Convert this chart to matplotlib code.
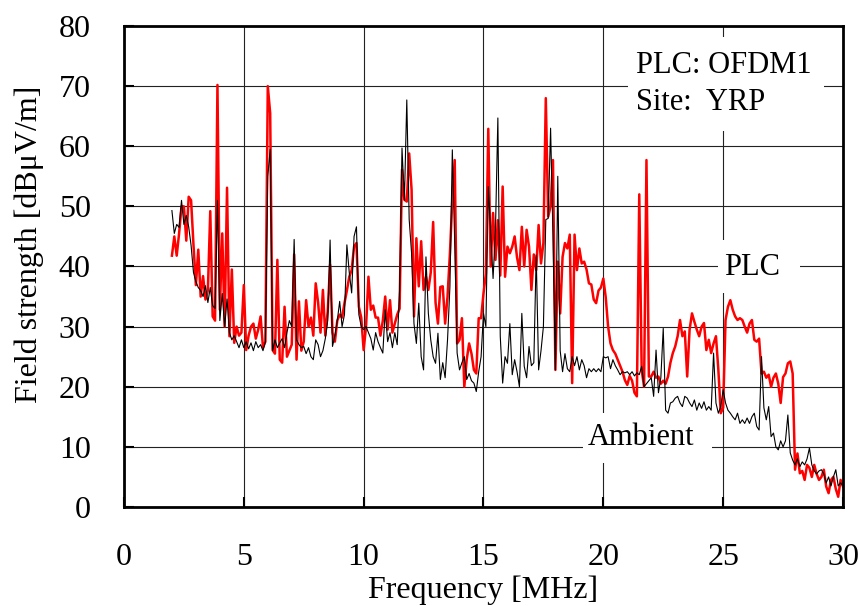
import matplotlib
matplotlib.use('Agg')
import matplotlib.pyplot as plt
import numpy as np
from matplotlib.patches import Rectangle

# ---------------- data ----------------
freq_mhz = np.round(np.arange(2.0, 30.05, 0.1), 1)

ambient = [
    49.3, 45.5, 47.0, 46.5, 51.0, 47.0, 48.5, 46.6, 43.5, 39.0,
    37.5, 36.5, 36.0, 35.0, 36.8, 34.0, 36.5, 33.5, 33.0, 51.0,
    31.0, 35.5, 30.0, 34.6, 29.0, 27.8, 28.5, 27.5, 26.5, 27.8,
    26.5, 27.5, 26.3, 27.3, 26.0, 27.5, 26.5, 27.0, 26.0, 27.5,
    55.0, 59.5, 26.0, 27.8, 26.5, 27.3, 28.0, 26.5, 29.0, 31.0,
    30.0, 44.5, 27.8, 27.0, 26.5, 26.7, 25.5, 26.5, 25.0, 24.5,
    27.8, 27.0, 25.0, 26.0, 28.0, 31.0, 44.4, 26.7, 28.5, 31.0,
    34.2, 30.0, 32.0, 43.6, 39.0, 35.6, 45.0, 46.6, 32.0, 30.0,
    29.5, 30.0, 29.0, 28.0, 26.1, 29.0, 27.5, 26.5, 25.6, 32.8,
    27.5, 29.0, 26.5, 29.0, 27.0, 36.1, 59.7, 51.0, 67.7, 47.8,
    42.2, 30.5, 27.2, 33.9, 25.0, 22.8, 41.6, 32.2, 27.8, 25.0,
    23.9, 28.9, 21.2, 24.0, 21.5, 27.8, 36.7, 59.4, 43.9, 25.6,
    22.8, 24.0, 25.0, 21.2, 22.2, 21.0, 20.6, 19.2, 22.5, 25.0,
    32.2, 30.0, 53.3, 45.5, 38.0, 46.1, 64.7, 28.4, 20.6, 25.0,
    23.9, 30.5, 22.0, 24.5, 22.5, 20.0, 32.2, 23.4, 21.5, 26.7,
    23.5, 24.0, 41.9, 22.8, 26.0, 30.0, 47.8, 48.0, 63.0, 45.0,
    22.8, 55.0, 26.0, 22.5, 25.5, 23.0, 22.5, 25.0, 23.5, 25.0,
    22.8, 24.5, 23.5, 21.5, 23.0, 22.5, 23.0, 22.5, 23.0, 22.5,
    25.0, 24.8, 25.0, 23.0, 24.5, 23.5, 22.8, 22.0, 22.5, 22.3,
    22.5, 22.0, 22.5, 21.8, 22.3, 22.0, 23.4, 20.0, 20.5, 21.0,
    21.5, 18.4, 26.1, 19.0, 21.5, 29.7, 16.1, 15.6, 17.3, 17.5,
    18.1, 18.4, 17.3, 16.7, 18.4, 18.1, 17.3, 16.7, 17.8, 16.1,
    17.3, 16.4, 17.5, 16.1, 16.7, 16.1, 25.6, 17.3, 15.6, 16.7,
    19.5, 17.3, 16.1, 15.6, 15.0, 14.5, 15.6, 13.9, 14.5, 13.9,
    14.8, 13.9, 15.0, 15.6, 13.4, 12.8, 25.0, 16.5, 14.5, 16.7,
    11.7, 12.3, 10.0, 9.5, 11.0, 10.0, 11.0, 15.3, 9.0, 7.8,
    7.0, 8.0, 6.7, 7.5, 7.0, 8.0, 9.8, 7.0, 6.0, 5.5,
    6.0, 6.2, 5.5, 4.0, 5.0, 3.5, 5.0, 6.2, 3.5, 4.0,
    3.5,
]

plc = [
    41.8, 45.0, 41.8, 45.5, 50.0, 50.0, 44.3, 51.6, 51.0, 43.6,
    36.9, 42.8, 35.0, 38.4, 34.5, 36.0, 49.2, 31.7, 31.0, 70.2,
    32.8, 45.5, 30.0, 53.1, 28.4, 39.5, 27.3, 30.0, 28.5, 29.0,
    36.9, 26.1, 28.5, 30.0, 30.5, 28.0, 29.5, 31.7, 26.5, 27.5,
    70.0, 65.5, 26.1, 25.5, 41.1, 24.5, 24.0, 33.3, 25.0, 26.0,
    27.0, 42.0, 24.5, 34.2, 26.0, 27.5, 34.4, 30.0, 31.5, 28.5,
    37.2, 34.0, 29.0, 36.1, 28.5, 32.5, 40.3, 29.0, 27.5, 31.0,
    32.0, 31.5, 33.9, 36.0, 38.3, 39.4, 43.3, 43.9, 33.3, 31.5,
    26.1, 30.0, 38.3, 32.8, 33.5, 31.5, 31.5, 28.5, 31.0, 35.0,
    29.5, 34.4, 29.0, 30.5, 32.0, 33.0, 56.1, 51.1, 50.8, 58.8,
    52.8, 31.7, 44.7, 36.7, 44.2, 36.1, 38.3, 36.1, 39.0, 47.4,
    34.0, 30.5, 36.6, 36.7, 30.5, 35.0, 42.2, 51.1, 57.7, 27.2,
    27.8, 31.4, 20.0, 24.5, 27.2, 25.5, 22.8, 22.2, 31.4, 31.4,
    35.5, 38.8, 62.9, 40.0, 48.9, 41.1, 47.7, 38.5, 53.3, 38.3,
    43.3, 42.2, 43.3, 45.0, 41.5, 39.4, 46.6, 40.0, 46.1, 43.3,
    36.1, 42.0, 39.4, 46.9, 40.5, 43.9, 68.0, 48.3, 50.0, 57.7,
    22.8, 40.8, 32.2, 41.6, 43.9, 43.0, 45.3, 20.6, 45.3, 39.4,
    43.0, 40.5, 40.8, 39.5, 37.2, 37.0, 34.5, 33.9, 36.0, 36.5,
    38.0, 34.9, 30.0, 27.2, 26.1, 25.5, 24.5, 23.5, 22.5, 21.1,
    20.3, 21.8, 21.0, 19.0, 18.4, 52.0, 22.8, 20.0, 57.7, 21.7,
    21.7, 22.5, 21.5, 21.7, 20.5, 21.0, 20.5, 21.7, 24.0, 25.6,
    26.7, 28.4, 31.1, 28.4, 29.2, 21.7, 29.5, 32.2, 30.8, 29.5,
    28.4, 30.0, 30.6, 26.1, 27.8, 25.6, 27.2, 28.4, 22.8, 15.6,
    16.5, 31.1, 33.3, 34.4, 32.8, 31.7, 31.1, 31.4, 31.1, 30.0,
    29.0, 30.5, 31.1, 27.8, 27.5, 28.0, 22.2, 22.5, 21.5, 22.0,
    20.0, 21.5, 22.2, 20.5, 17.3, 21.6, 22.2, 23.9, 24.2, 22.2,
    6.2, 8.9, 5.6, 6.0, 4.5, 7.0, 6.5, 5.0, 7.0, 5.5,
    4.5, 5.0, 6.2, 3.4, 2.3, 4.5, 5.0, 3.0, 1.7, 4.5,
    3.4,
]

x_ticks = [0, 5, 10, 15, 20, 25, 30]
y_ticks = [0, 10, 20, 30, 40, 50, 60, 70, 80]

# ---------------- figure ----------------
plt.rcParams['font.family'] = ['Liberation Serif', 'DejaVu Serif']
FS = 23
FS_NOTE = 22

fig = plt.figure(figsize=(8.58, 6.06), dpi=100)
ax = fig.add_axes([0.1445, 0.1634, 0.8380, 0.7937])

ax.plot(freq_mhz, plc, color='#ff0000', lw=1.8, zorder=2)
ax.plot(freq_mhz, ambient, color='black', lw=0.8, zorder=3)

ax.set_xlim(0, 30)
ax.set_ylim(0, 80)
ax.set_xticks(x_ticks)
ax.set_yticks(y_ticks)
ax.grid(True, color='#222222', lw=0.8)
ax.tick_params(direction='in', length=7, width=1.5, labelsize=FS)
ax.tick_params(axis='x', pad=26)
ax.tick_params(axis='y', pad=24)
for s in ax.spines.values():
    s.set_linewidth(2)

# white boxes behind annotations (they interrupt the grid)
for (x0, y0, w, h) in [(21.03, 62.6, 8.17, 15.6),
                       (24.78, 35.6, 3.42, 8.8),
                       (19.15, 7.3, 5.38, 8.3)]:
    ax.add_patch(Rectangle((x0, y0), w, h, facecolor='white',
                           edgecolor='none', zorder=1.6))

ax.text(21.36, 70.4, 'PLC: OFDM1\nSite:  YRP', ha='left', va='center',
        fontsize=FS_NOTE, linespacing=1.35, zorder=4)
ax.text(26.2, 39.8, 'PLC', ha='center', va='center', fontsize=FS_NOTE, zorder=4)
ax.text(21.57, 11.5, 'Ambient', ha='center', va='center', fontsize=FS_NOTE, zorder=4)

ax.set_xlabel('Frequency [MHz]', fontsize=FS)
ax.set_ylabel('Field strength [dB\u03bcV/m]', fontsize=FS)
ax.xaxis.set_label_coords(0.5, -0.142)
ax.yaxis.set_label_coords(-0.111, 0.547)

fig.savefig('out.png', dpi=100)
